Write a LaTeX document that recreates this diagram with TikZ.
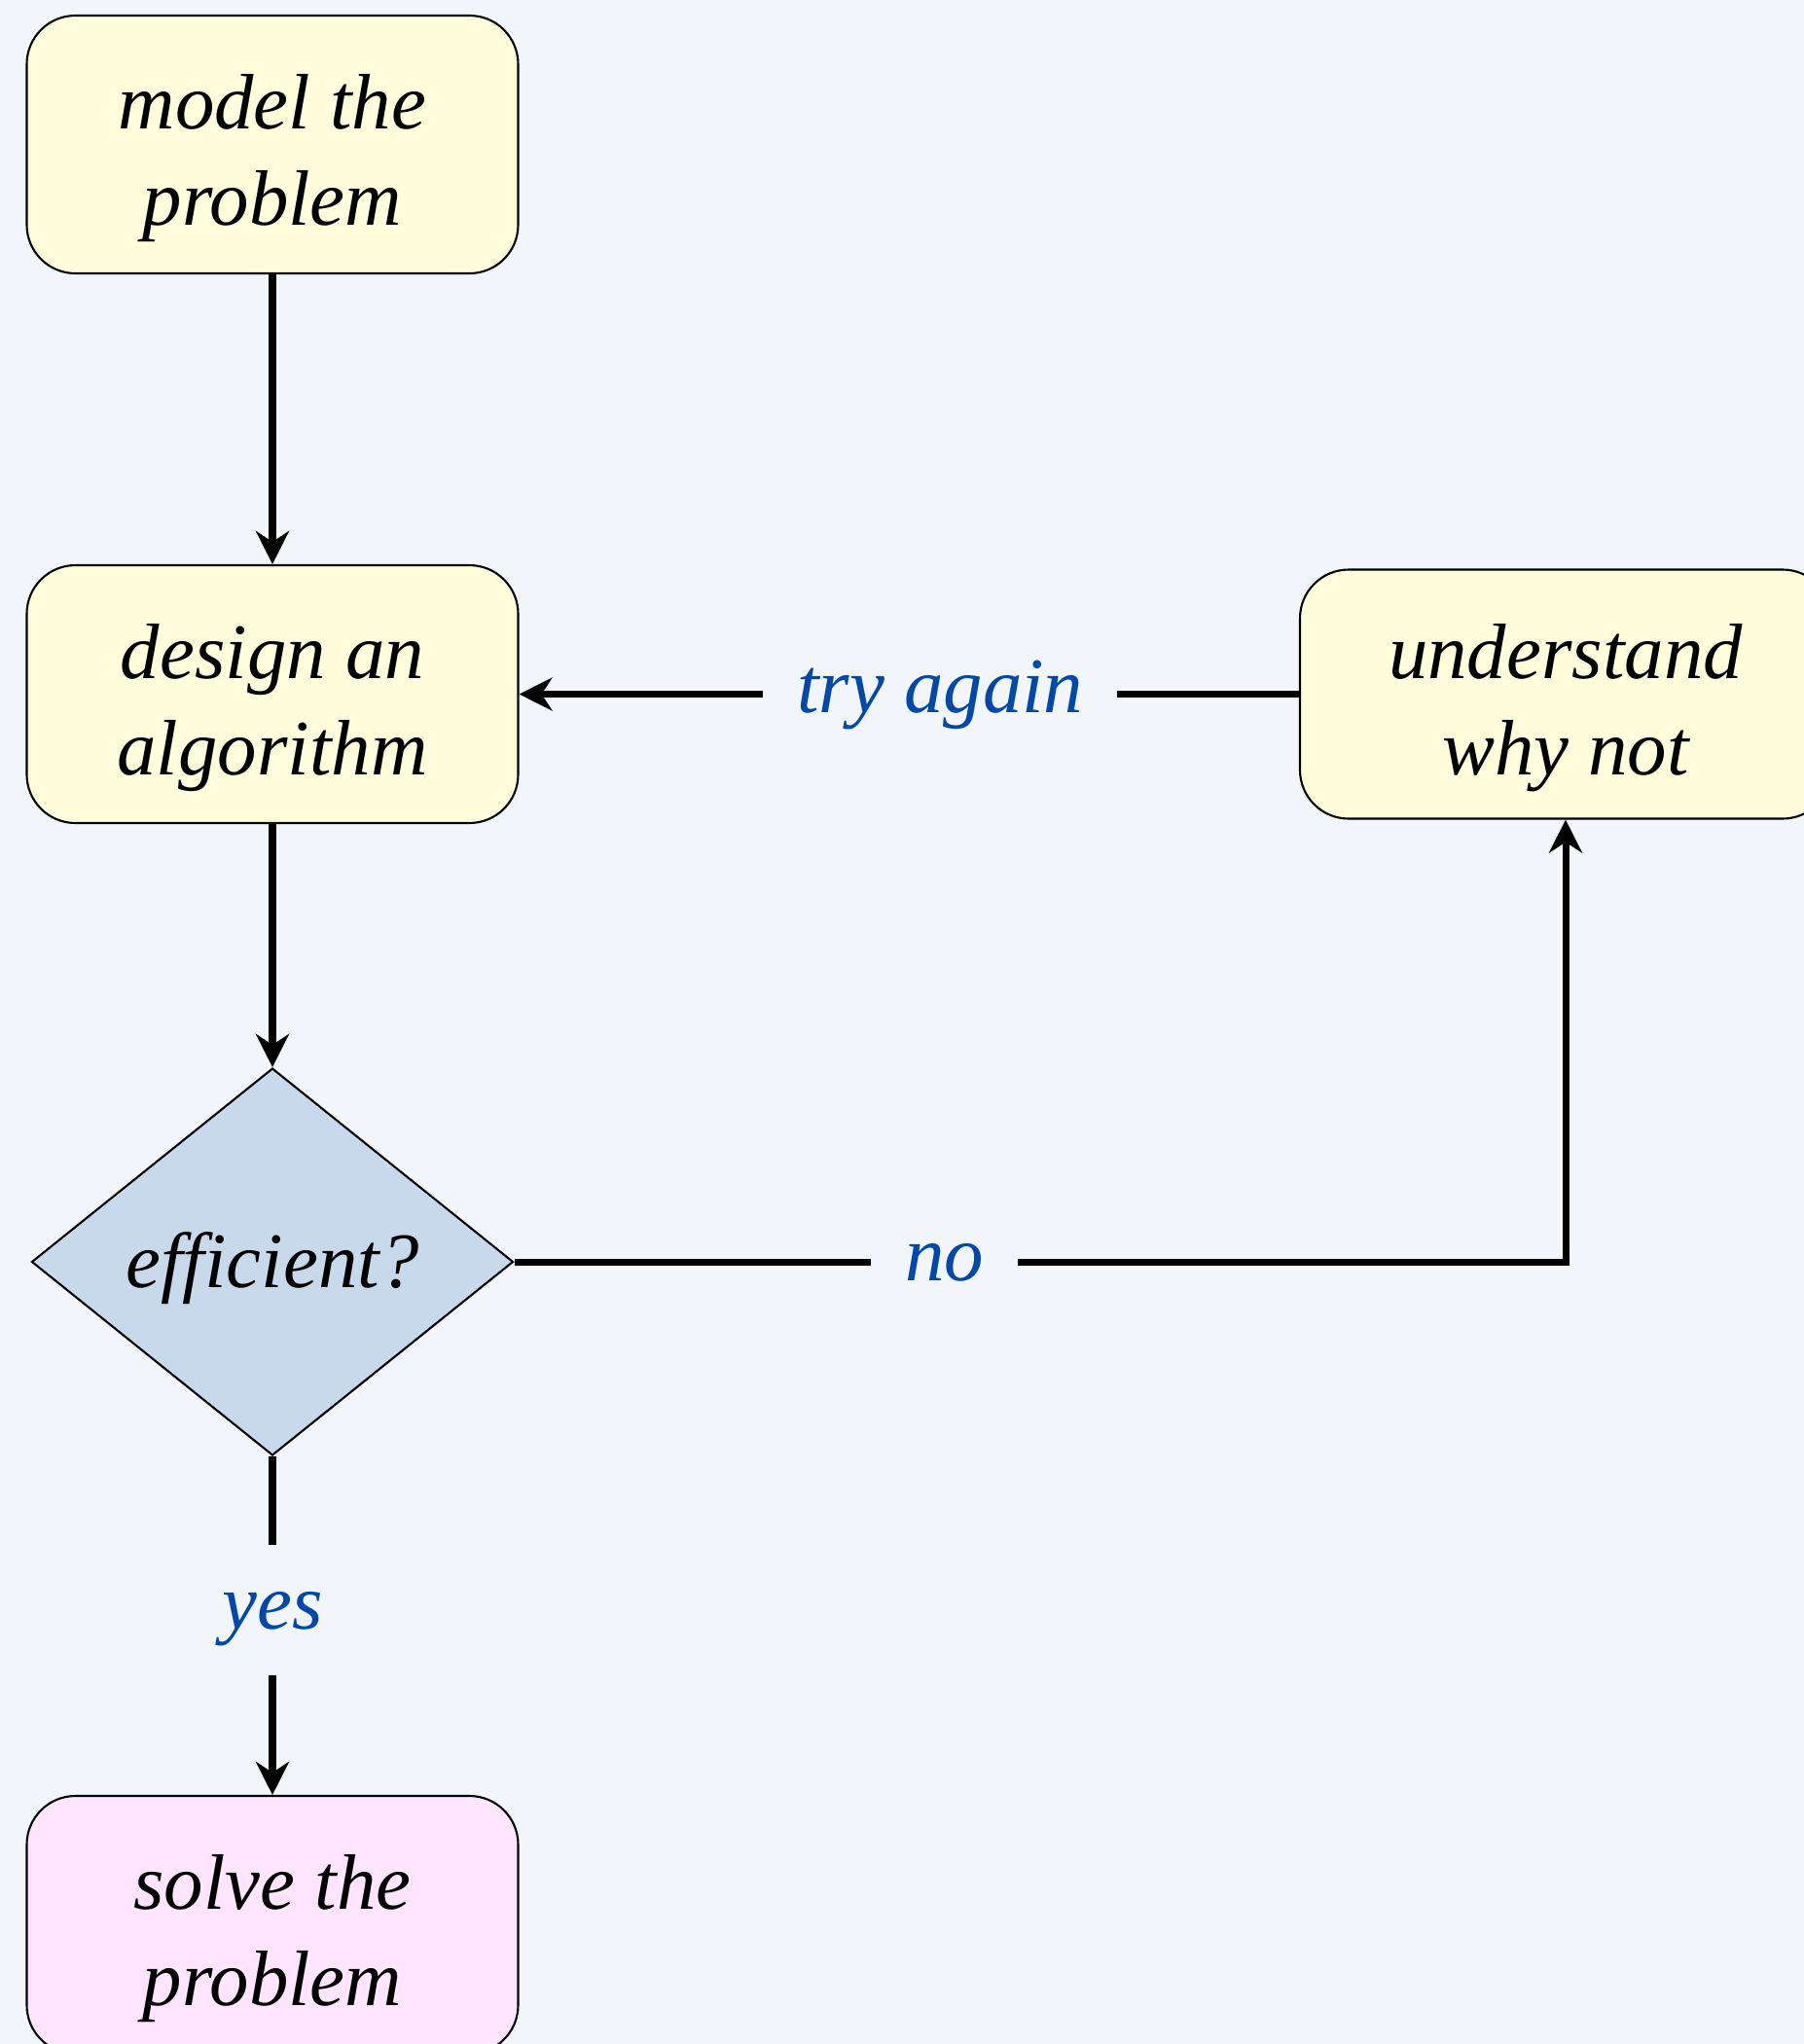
\documentclass[tikz,border=0pt]{standalone}
\usepackage{fontspec}
\setmainfont{Liberation Serif}
\usetikzlibrary{shapes.geometric,arrows.meta}
\definecolor{bgc}{HTML}{F2F6FA}
\definecolor{boxy}{HTML}{FFFDDC}
\definecolor{boxp}{HTML}{FFE5FF}
\definecolor{diab}{HTML}{C9D9EC}
\definecolor{lblc}{HTML}{0048AA}
\begin{document}
\begin{tikzpicture}[
  txt/.style={font=\fontsize{23}{28}\selectfont\itshape},
  proc/.style={txt, draw=black, line width=0.6pt, rounded corners=5mm, align=center,
    minimum width=5.05cm, minimum height=2.65cm, inner sep=0pt, text height=52pt},
  dec/.style={txt, diamond, draw=black, fill=diab, line width=0.6pt,
    minimum width=4.95cm, minimum height=3.98cm, inner sep=0pt, text height=20pt},
  conn/.style={line width=2pt, -{Stealth[length=3.4mm,width=3.4mm,inset=1.1mm]}},
  lbl/.style={txt, text=lblc, fill=bgc, inner xsep=3.5mm, inner ysep=3mm,
    text height=16pt, text depth=5pt}
]
\useasboundingbox (0,0) rectangle (18.54,-21.01);
\fill[bgc] (0,0) rectangle (18.54,-21.01);
\clip (0,0) rectangle (18.54,-21.01);

\node[proc, fill=boxy] (m) at (2.8,-1.485) {model the\\problem};
\node[proc, fill=boxy] (d) at (2.8,-7.135) {design an\\algorithm};
\node[proc, fill=boxy, minimum width=5.46cm, minimum height=2.56cm] (u) at (16.09,-7.135) {understand\\why not};
\node[dec] (e) at (2.8,-12.97) {efficient?};
\node[proc, fill=boxp] (s) at (2.8,-19.785) {solve the\\problem};

\draw[conn] (m) -- (d);
\draw[conn] (d) -- (e);
\draw[conn] (e.south) -- node[lbl, pos=0.455] {yes} (s);
\draw[conn] (e.east) -| node[lbl, pos=0.2045] {no} (u.south);
\draw[conn] (u.west) -- node[lbl, pos=0.46] {try again} (d.east);
\end{tikzpicture}
\end{document}
